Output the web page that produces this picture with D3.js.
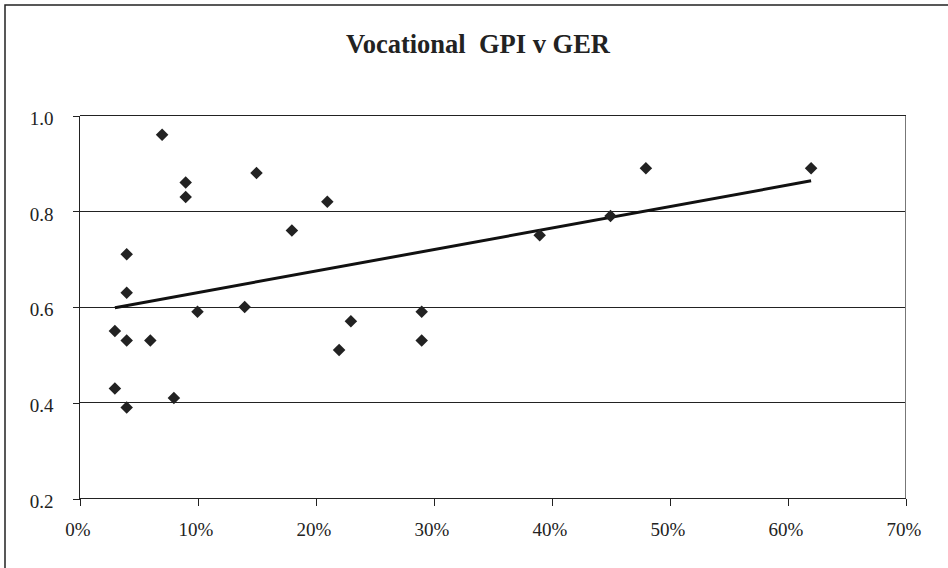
<!DOCTYPE html>
<html><head><meta charset="utf-8">
<script src="https://cdn.jsdelivr.net/npm/d3@7"></script>
<style>html,body{margin:0;padding:0;background:#fff;}svg{display:block;}
svg text{font-family:"Liberation Serif","DejaVu Serif","Times New Roman",serif;}</style>
</head><body>
<svg id="c" width="948" height="568"></svg>
<script>
const title = "Vocational  GPI v GER";
const gerValues = [7, 9, 9, 15, 21, 18, 4, 4, 10, 14, 3, 4, 6, 23, 22, 3, 4, 8, 29, 29, 39, 48, 62, 45];
const gpiValues = [0.96, 0.86, 0.83, 0.88, 0.82, 0.76, 0.71, 0.63, 0.59, 0.60, 0.55, 0.53, 0.53, 0.57, 0.51, 0.43, 0.39, 0.41, 0.59, 0.53, 0.75, 0.89, 0.89, 0.79];
const xTicks = [0, 10, 20, 30, 40, 50, 60, 70];
const yTicks = [0.2, 0.4, 0.6, 0.8, 1.0];

const svg = d3.select("#c");
const font = '"Liberation Serif","DejaVu Serif",serif';
const L = 79.5, R = 905.5, T = 115.5, B = 498.5;
const x = d3.scaleLinear().domain([0, 70]).range([L, R]);
const y = d3.scaleLinear().domain([0.2, 1.0]).range([B, T]);

// outer frame
svg.append("rect").attr("x", 5).attr("y", 5).attr("width", 950).attr("height", 570)
  .attr("fill", "none").attr("stroke", "#222").attr("stroke-width", 1.5);

// title
svg.append("text").attr("x", 478).attr("y", 53).attr("text-anchor", "middle")
  .style("white-space", "pre").style("font-family", font).style("font-weight", "bold")
  .style("font-size", "26.5px").attr("fill", "#222").text(title);

// gridlines
svg.append("g").attr("shape-rendering", "crispEdges")
  .selectAll("line").data(yTicks.filter(d => d > 0.2)).join("line")
  .attr("x1", L).attr("x2", R).attr("y1", d => y(d)).attr("y2", d => y(d))
  .attr("stroke", "#222").attr("stroke-width", 1);
// right edge of plot
svg.append("line").attr("shape-rendering", "crispEdges")
  .attr("x1", R).attr("x2", R).attr("y1", T).attr("y2", B)
  .attr("stroke", "#777").attr("stroke-width", 1);

// axes
const yAxis = d3.axisLeft(y).tickValues(yTicks).tickFormat(d3.format(".1f")).tickSize(7).tickPadding(19);
const gy = svg.append("g").attr("transform", `translate(${L},0)`).call(yAxis)
  .attr("font-family", null).attr("font-size", null);
gy.select(".domain").attr("stroke", "#222").attr("d", `M0,${B}V${T}`).attr("shape-rendering", "crispEdges");
gy.selectAll(".tick line").attr("stroke", "#222").attr("shape-rendering", "crispEdges");
gy.selectAll(".tick text").style("font-family", font).style("font-size", "19px").attr("fill", "#222").attr("dy", "0.47em");

const xAxis = d3.axisBottom(x).tickValues(xTicks).tickFormat(d => d + "%").tickSize(7).tickPadding(20);
const gx = svg.append("g").attr("transform", `translate(0,${B})`).call(xAxis)
  .attr("font-family", null).attr("font-size", null);
gx.select(".domain").attr("stroke", "#222").attr("d", `M${L},0H${R}`).attr("shape-rendering", "crispEdges");
gx.selectAll(".tick line").attr("stroke", "#222").attr("shape-rendering", "crispEdges");
gx.selectAll(".tick text").style("font-family", font).style("font-size", "19px").attr("fill", "#222").attr("dx", -2).attr("dy", "0.55em");

// linear trendline (least squares)
const n = gerValues.length;
const mx = d3.mean(gerValues), my = d3.mean(gpiValues);
let sxy = 0, sxx = 0;
for (let i = 0; i < n; i++) { sxy += (gerValues[i]-mx)*(gpiValues[i]-my); sxx += (gerValues[i]-mx)**2; }
const slope = sxy / sxx, icpt = my - slope * mx;
const [x0, x1] = d3.extent(gerValues);
svg.append("line").attr("x1", x(x0)).attr("y1", y(icpt + slope*x0))
  .attr("x2", x(x1)).attr("y2", y(icpt + slope*x1))
  .attr("stroke", "#111").attr("stroke-width", 3);

// points
const sym = d3.symbol().type(d3.symbolDiamond2).size(100);
svg.append("g").selectAll("path").data(gerValues.map((g, i) => [g, gpiValues[i]])).join("path")
  .attr("d", sym).attr("transform", d => `translate(${x(d[0])},${y(d[1])})`)
  .attr("fill", "#222");
</script>
</body></html>
